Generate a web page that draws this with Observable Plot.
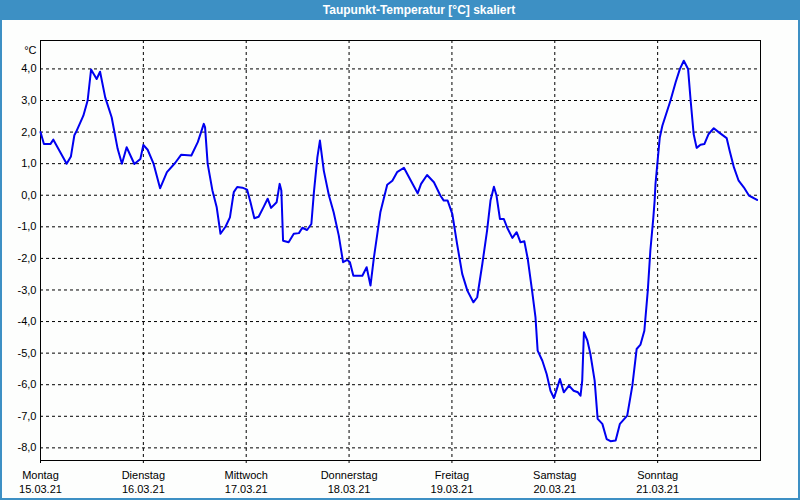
<!DOCTYPE html>
<html>
<head>
<meta charset="utf-8">
<script src="https://cdn.jsdelivr.net/npm/d3@7"></script>
<script src="https://cdn.jsdelivr.net/npm/@observablehq/plot@0.6"></script>
<style>
  html, body { margin: 0; padding: 0; background: #fdfefd; }
  #wrap { position: relative; width: 800px; height: 500px; overflow: hidden; background: #fdfefd; }
  #title { height: 20px; background: #3d90c4; color: #ffffff; font: bold 12px "Liberation Sans", Arial, sans-serif; line-height: 20px; text-align: center; padding-left: 38px; box-sizing: border-box; }
  #border { position: absolute; left: 0; top: 0; width: 800px; height: 500px; box-sizing: border-box; border: 2px solid #3d90c4; pointer-events: none; }
  #chart svg { display: block; }
</style>
</head>
<body>
<div id="wrap">
  <div id="title">Taupunkt-Temperatur [°C] skaliert</div>
  <div id="chart"></div>
  <div id="border"></div>
</div>
<script>
const days = ["Montag", "Dienstag", "Mittwoch", "Donnerstag", "Freitag", "Samstag", "Sonntag"];
const dates = ["15.03.21", "16.03.21", "17.03.21", "18.03.21", "19.03.21", "20.03.21", "21.03.21"];
const yTicks = [4, 3, 2, 1, 0, -1, -2, -3, -4, -5, -6, -7, -8];
const unitLabel = "°C";

// hours since Monday 15.03.21 00:00
const hours = [0, 0.8, 2.3, 3.0, 6.1, 7.1, 7.9, 8.3, 10.0, 11.0, 11.8, 13.1, 13.9, 15.1, 16.6, 18.0, 19.0, 20.1, 21.9, 23.3,
  24.0, 25.0, 26.4, 27.9, 29.5, 31.4, 32.8, 35.2, 36.7, 38.1, 38.4, 39.0, 40.1, 41.1, 42.0, 43.2, 44.2, 45.1, 45.9, 47.1,
  48.2, 49.0, 49.9, 50.9, 52.1, 53.0, 53.8, 55.1, 55.8, 56.2, 56.6, 57.9, 59.1, 60.3, 61.1, 62.2, 63.2, 63.8, 64.6, 65.2,
  66.1, 67.3, 68.4, 69.6, 70.6, 71.6, 72.2, 73.0, 75.1, 76.1, 77.0, 77.8, 78.7, 79.3, 80.9, 82.1, 83.2, 84.8, 86.3, 88.0,
  88.8, 90.2, 91.8, 93.3, 94.1, 95.0, 96.1, 97.2, 98.4, 99.6, 101.0, 101.9, 103.1, 104.2, 105.0, 105.8, 106.4, 107.2, 108.1, 108.9,
  110.1, 111.1, 112.0, 112.9, 113.7, 114.7, 115.5, 116.0, 117.1, 118.1, 119.0, 119.8, 120.4, 121.2, 122.1, 123.3, 124.4, 125.4, 126.0, 126.4,
  126.8, 127.6, 128.3, 129.3, 130.0, 131.1, 132.1, 133.0, 134.2, 135.2, 136.9, 138.1, 139.1, 140.0, 140.9, 141.7, 142.3, 143.0, 143.3, 143.5,
  144.0, 144.5, 145.1, 147.0, 148.2, 149.2, 150.1, 151.1, 151.7, 152.4, 153.1, 154.0, 154.9, 155.9, 157.1, 158.3, 160.1, 160.8, 161.8, 162.9,
  164.1, 165.3, 166.3, 167.2];
const values = [2.0, 1.62, 1.62, 1.76, 1.0, 1.23, 1.9, 2.0, 2.52, 3.0, 3.98, 3.68, 3.91, 3.1, 2.47, 1.47, 1.0, 1.52, 0.99, 1.15,
  1.59, 1.44, 0.99, 0.22, 0.73, 1.02, 1.28, 1.26, 1.68, 2.26, 2.15, 1.0, 0.16, -0.37, -1.22, -0.99, -0.70, 0.10, 0.26, 0.24,
  0.18, -0.22, -0.73, -0.68, -0.36, -0.11, -0.40, -0.22, 0.36, 0.15, -1.44, -1.49, -1.22, -1.2, -1.03, -1.1, -0.91, 0.10, 1.2, 1.73,
  0.78, -0.01, -0.54, -1.28, -2.12, -2.05, -2.12, -2.55, -2.55, -2.28, -2.86, -1.97, -1.12, -0.54, 0.33, 0.46, 0.73, 0.87, 0.49, 0.06,
  0.36, 0.64, 0.41, -0.01, -0.17, -0.17, -0.6, -1.54, -2.49, -3.02, -3.39, -3.23, -2.17, -1.12, -0.17, 0.27, -0.01, -0.75, -0.75, -1.03,
  -1.35, -1.17, -1.49, -1.46, -2.02, -3.02, -3.87, -4.92, -5.24, -5.66, -6.19, -6.42, -6.17, -5.82, -6.24, -6.03, -6.19, -6.24, -6.35, -5.87,
  -4.34, -4.6, -5.02, -5.87, -7.08, -7.24, -7.72, -7.79, -7.77, -7.24, -6.98, -6.03, -4.87, -4.73, -4.29, -3.02, -1.75, -0.7, -0.17, 0.36,
  1.1, 1.83, 2.2, 3.0, 3.58, 4.0, 4.26, 4.0, 3.0, 1.94, 1.5, 1.6, 1.62, 1.94, 2.12, 1.99, 1.81, 1.41, 0.88, 0.46,
  0.25, -0.01, -0.08, -0.15];

const start = Date.UTC(2021, 2, 15);
const DAY = 864e5;
const data = hours.map((h, i) => ({ t: new Date(start + h * 3600e3), v: values[i] }));
const dayTicks = days.map((_, i) => new Date(start + i * DAY));
const dayIndex = d => Math.round((+d - start) / DAY);
const fmtY = d => d.toFixed(1).replace(".", ",");

const chart = Plot.plot({
  width: 800,
  height: 480,
  marginTop: 20,
  marginBottom: 40,
  marginLeft: 40,
  marginRight: 40,
  style: { fontFamily: "'Liberation Sans', Arial, sans-serif", fontSize: "11px", color: "black", background: "transparent", overflow: "visible" },
  x: { type: "utc", domain: [new Date(start), new Date(start + 7 * DAY)] },
  y: { domain: [-8.4, 4.9] },
  marks: [
    Plot.gridY(yTicks, { stroke: "black", strokeOpacity: 1, strokeDasharray: "3,3", strokeWidth: 1 }),
    Plot.gridX(dayTicks.slice(1), { stroke: "black", strokeOpacity: 1, strokeDasharray: "3,3", strokeWidth: 1 }),
    Plot.frame({ stroke: "black", strokeWidth: 1 }),
    Plot.axisY(yTicks, { tickSize: 0, tickPadding: 4, tickFormat: fmtY, label: null, fill: "black" }),
    Plot.axisX(dayTicks, { tickSize: 3, tickPadding: 8, tickFormat: d => days[dayIndex(d)], label: null, stroke: "black", fill: "black" }),
    Plot.axisX(dayTicks, { tickSize: 0, tickPadding: 25, tickFormat: d => dates[dayIndex(d)], label: null, fill: "black" }),
    Plot.text([unitLabel], { frameAnchor: "top-left", dx: -4, dy: 6, textAnchor: "end", fill: "black" }),
    Plot.line(data, { x: "t", y: "v", stroke: "#0000f0", strokeWidth: 2, curve: "linear" })
  ]
});
document.getElementById("chart").appendChild(chart);
</script>
</body>
</html>
